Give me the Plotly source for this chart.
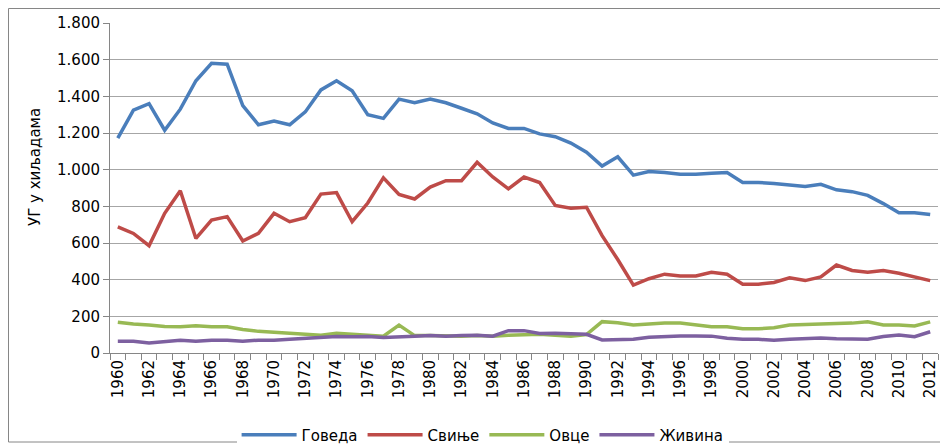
import plotly.graph_objects as go

years = list(range(1960, 2013))

govedo = [1172, 1325, 1360, 1215, 1330, 1485, 1580, 1575, 1350, 1245,
          1265, 1245, 1315, 1435, 1485, 1430, 1300, 1280, 1385, 1365,
          1385, 1365, 1335, 1305, 1255, 1225, 1225, 1195, 1180, 1145,
          1095, 1020, 1070, 970, 990, 985, 975, 975, 980, 985,
          930, 930, 925, 915, 908, 920, 890, 880, 860, 815,
          765, 765, 755]

svinje = [688, 652, 585, 762, 885, 625, 725, 744, 611, 653,
          762, 716, 738, 867, 875, 716, 818, 955, 865, 840,
          905, 940, 940, 1040, 960, 895, 960, 930, 805, 790,
          795, 640, 510, 370, 405, 430, 420, 420, 440, 430,
          375, 375, 385, 410, 395, 415, 480, 450, 440, 450,
          435, 415, 395]

ovce = [168, 158, 153, 145, 143, 148, 143, 143, 128, 118,
        113, 108, 102, 97, 107, 102, 97, 92, 152, 95,
        95, 93, 92, 95, 92, 97, 100, 102, 97, 92,
        100, 171, 165, 153, 158, 163, 163, 153, 143, 143,
        132, 132, 138, 153, 155, 158, 160, 163, 170, 153,
        153, 147, 170]

zivina = [64, 64, 55, 64, 70, 64, 70, 70, 64, 70,
          70, 75, 80, 85, 90, 88, 90, 85, 90, 92,
          95, 92, 95, 97, 92, 122, 122, 107, 108, 103,
          102, 71, 75, 75, 86, 90, 93, 93, 92, 80,
          75, 75, 69, 75, 78, 82, 78, 78, 75, 90,
          98, 89, 116]

names = ["Говеда", "Свиње", "Овце", "Живина"]
colors = ["#4A7EBB", "#BE4B48", "#98B954", "#7D60A0"]
series = [govedo, svinje, ovce, zivina]

x_ticks = list(range(1960, 2013, 2))
x_labels = [str(y) for y in x_ticks]
y_ticks = list(range(0, 1801, 200))
y_title = "УГ у хиљадама"

fig = go.Figure()
for n, c, s in zip(names, colors, series):
    fig.add_trace(go.Scatter(x=years, y=s, name=n, mode="lines",
                             line=dict(color=c, width=3.5)))

font = dict(family="DejaVu Sans", size=15, color="#000000")

# page has an 8px body margin; figure placed at (8, 8)
W, H = 940, 440
L, R, T, B = 102, 10, 15, 95
PW, PH = W - L - R, H - T - B


def px_x(x):
    return (x - L) / PW


def px_y(y):
    return (PH + T - y) / PH


fig.update_layout(
    width=W, height=H,
    margin=dict(l=L, r=R, t=T, b=B, autoexpand=False),
    paper_bgcolor="white", plot_bgcolor="white",
    separators=",.",
    font=font,
    showlegend=True,
    legend=dict(orientation="h", x=0.45, xanchor="center", y=px_y(427), yanchor="middle",
                font=dict(family="DejaVu Sans", size=15), itemwidth=55,
                traceorder="normal"),
    xaxis=dict(range=[1959.5, 2012.5], tickmode="array", tickvals=x_ticks,
               ticktext=x_labels, tickangle=-90, ticks="", showgrid=False,
               showline=True, linecolor="#868686", linewidth=1, zeroline=False,
               tickfont=font, automargin=False,
               minor=dict(tickmode="linear", tick0=1959.5, dtick=1, ticks="outside",
                          ticklen=6, tickcolor="#868686", showgrid=False)),
    yaxis=dict(range=[0, 1800], tickmode="array", tickvals=y_ticks, tickformat=",d",
               showgrid=True, gridcolor="#A6A6A6", gridwidth=1,
               showline=True, linecolor="#868686", linewidth=1, zeroline=False,
               ticks="outside", ticklen=6, tickcolor="#868686", tickfont=font,
               automargin=False),
)

fig.add_annotation(text=y_title, xref="paper", yref="paper", x=px_x(27), y=px_y(159),
                   xanchor="center", yanchor="middle", textangle=-90, showarrow=False,
                   font=dict(family="DejaVu Sans", size=15, color="#000000"))

fig.add_shape(type="rect", xref="paper", yref="paper",
              x0=px_x(0.5), x1=px_x(934),
              y0=px_y(434), y1=px_y(0.5),
              line=dict(color="#868686", width=1), fillcolor="rgba(0,0,0,0)", layer="above")

fig.write_html("out.html")
